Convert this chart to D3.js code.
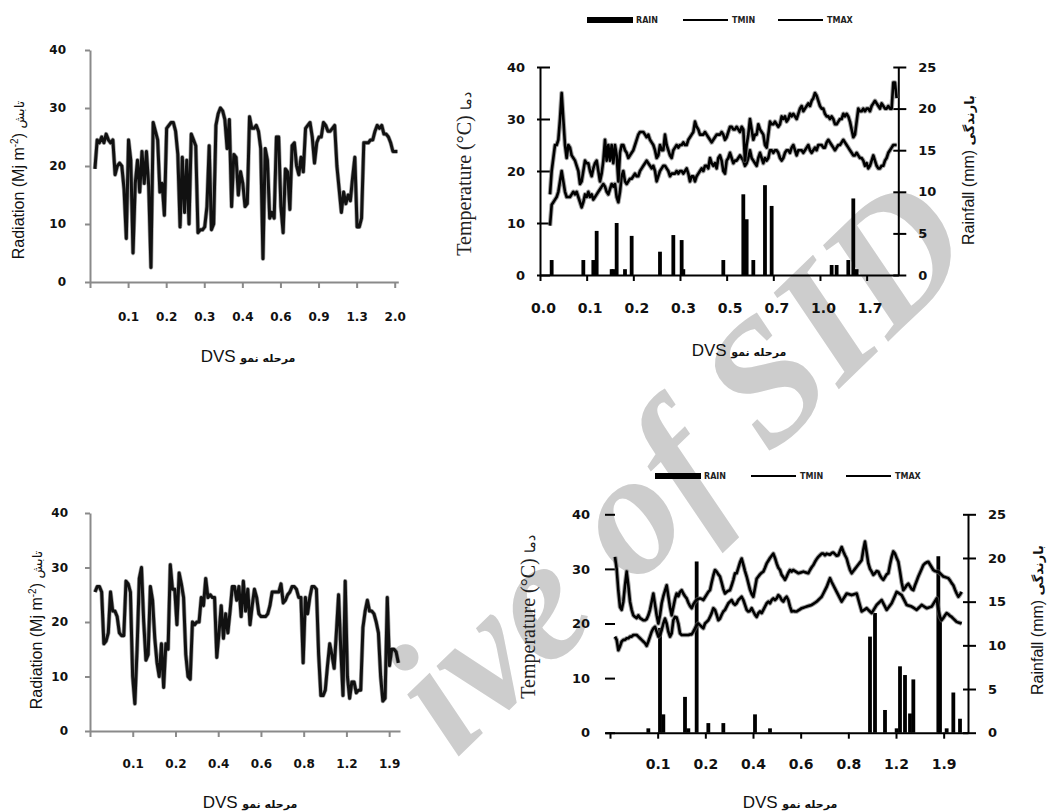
<!DOCTYPE html>
<html><head><meta charset="utf-8">
<script src="https://cdn.jsdelivr.net/npm/d3@7"></script>
<style>body{margin:0;background:#fff} svg{display:block}</style>
</head><body>
<svg id="c" width="1050" height="812"></svg>
<script>
// ---------- DATA ----------
// Chart 1 (top-left) : daily radiation
const rad1 = [19.5,24.5,24,25,24,25.5,24.5,24,24.5,18.5,
20,20.5,20,16,7.5,24.5,21,5,17,21,
15.5,22.5,17,22.5,16.5,2.5,27.5,26,24.5,15.5,
17,11.5,26.5,27,27.5,27.5,26,22,9.5,21.5,
12,21,10,25.5,24.5,23.5,8.5,9,9,9.5,
13,23.5,9,10,27,29,30,29.5,28,23,
28,13,22,21.5,15,19,17,13,13.5,28.5,
26.5,26.5,27,26,23,4,23,21,11,12,
11,25,25,13,8.5,19.5,19,12.5,23.5,24,
20,18.5,21.5,19,26.5,27,27.5,25,20.5,24,
25,25,27.5,27,26,26,26.5,27,20,16,
12,15.5,13.5,15,14,18,21.5,9.5,9.5,11,
24,24,24,24.5,24.5,26,27,26.5,27,25.5,
25.5,25,24,22.5,22.5,22.5];
const dvs1 = ["","0.1","0.2","0.3","0.4","0.6","0.9","1.3","2.0"];

// Chart 3 (bottom-left) : daily radiation
const rad3 = [25.5,26.5,26.5,25.5,16,16.5,18,25.5,22,22,
21,18,17.5,17.5,27.5,27,25.5,10,5,15,
28,30,20,13,14,26.5,24,17,12.5,10,
16,8,16,15,30.5,26,26,19.5,29,27,
24.5,14,10,9.5,20,19.5,20,20,24.5,23,
28,24.5,25,24.5,24.5,13.5,18,23,17,21.5,
18,22,26.5,26.5,24,26.5,21,27.5,22,26,
19.5,23,26,24.5,21.5,21,21,21,21.5,23,
25.5,25.5,25.5,25.5,27,23.5,24,25,25.5,26.5,
26.5,26,24.5,24.5,12.5,24.5,21.5,24.5,26.5,26.5,
26,14,6.5,6.5,7.5,12,16,14,11.5,18,
25,15,6.5,27.5,10,6,9,9,7,7.5,
7.5,19,22,24,22,22,21.5,20,18,10,
5.5,6,24.5,12,15,15,14.5,12.5];
const dvs3 = ["","0.1","0.2","0.4","0.6","0.8","1.2","1.9"];

// Chart 2 (top-right) : temperature and rain
const tmax2 = [15.5,20,22.5,25,25,26,30,35,30,25,
22.5,25,24.5,23,22.5,22,21,20,17.5,18,
20,22,21.5,21.5,20,19,20.5,21.5,22,20,
18,19.5,22,26,22,25,22,25,21.5,25,
23,18,23.5,25,25,24,23.5,22.5,23,23.5,
24,25,26,27,27.5,27.5,27.5,27,26.5,27,
26,25.5,25,24,22.5,23,25,24,24,27,
25,24,23,22.5,24,24.5,25,24.5,25,25,
25.5,25,25,26,26.5,27,27.5,29.5,28.5,28,
27,27,27,27.5,27,26.5,26,25.5,26,26.5,
27,27,27,27.5,27,26,26.5,27.5,28.5,28.5,
28,28,28.5,28,27.5,28.5,28,22,25,27,
30,28,26,27,27,29,28,27.5,27,25,
24.5,27,29.5,29,29,29.5,29,28.5,29,30.5,
30,30.5,29.5,30,31,30.5,31,30.5,30,31,
32,32.5,31.5,32,32.5,33,32.5,33.5,34,35,
34.5,33.5,32.5,32,32,31,30.5,30.5,30,30.5,
30,29,29,29.5,30,30,31,30.5,31,30.5,
29.5,28,26.5,27,29.5,32,31.5,31.5,32,31.5,
32,32,31.5,32.5,33,33.5,33,32.5,32,33,
32.5,32,32,32.5,32,32,37,37,34];
const tmin2 = [9.5,13.5,14,14.5,15,16,18,20,18,16,
15,15,15,15.5,16,15.5,16,15,14,13,
14,15.5,15,16,15,15.5,14.5,15,15.5,16,
16.5,17,17.5,17,16,15.5,16.5,17.5,17,17.5,
15,14,16,19,20,18,17.5,18,18.5,18.5,
19,19.5,19,19,20,20.5,21,21.5,22,21.5,
21,20.5,21,20,18,19,20,20.5,21,21,
20.5,20,19,19.5,19.5,19.5,20,19.5,20,20,
19.5,20,20.5,19.5,18,19,19,18,19,19.5,
20,20.5,20,21,21,20.5,22.5,21.5,21,21.5,
20.5,22.5,23,22,20,19.5,22,22.5,23.5,22.5,
21.5,22,22,22.5,23,22.5,22,21,21.5,22.5,
24,22.5,22,21.5,21,22.5,23.5,22.5,21.5,22.5,
22,22.5,24,24,23.5,24,24,23.5,22.5,22,
22.5,23.5,24,24,23.5,24.5,25,24,23,24,
24,24,23.5,24,24.5,25,24,23.5,24,24.5,
24,25,25,25,24.5,24.5,25.5,26,25.5,25,
24.5,24,24.5,25,25,25.5,26,25.5,25,24.5,
24,23.5,23,23,23.5,23,22.5,22.5,22,21,
21.5,20.5,21,22,23,22,21,20.5,20.5,21,
21,22,22.5,23.5,24,24.5,25,25,25];
const rainDay2 = [7,26,32,34,43,44,46,51,55,72,80,85,86,110,122,124,128,135,139,175,178,185,188,190];
const rainMM2  = [1.8,1.8,1.8,5.3,0.7,0.7,6.25,0.7,4.7,2.8,4.8,4.2,0.7,1.8,9.7,6.7,1.8,10.8,8.3,1.2,1.2,1.8,9.2,0.7];
const dvs2 = ["0.0","0.1","0.2","0.3","0.5","0.7","1.0","1.7"];

// Chart 4 (bottom-right) : temperature and rain
const tmax4 = [32.2,30,26,23,22.5,24,27,29.5,27,24,
22.5,21.5,21.2,21,21.5,21,20.8,20.6,20.6,20.8,
21.5,22.5,24,25.5,23.5,21.5,20,21.5,23.7,25,
26,27,25,23,21.5,23,24.5,25.5,25,25.8,
26.1,25.5,25,24.6,23.8,23.2,22.8,23.5,24,24.3,
24.5,24.6,24.5,24.3,24.8,25.3,25.8,26.1,27.5,28.8,
29.8,29.5,29,28.6,27.5,26.3,25.5,25.8,26,26.1,
27,28,29.2,29.2,30.2,31.2,31.9,30.8,29.6,28.6,
27.4,26.2,25.4,24.9,26.5,28.2,28.6,29,29.3,29.5,
30.2,31,31.5,32,32.4,32.8,32,31,30.2,29.8,
28.9,28.5,28,28.6,29.3,29.8,29.5,
29.8,29.6,29.4,29.2,29.3,29.4,29.5,29.4,29.3,29.2,
29.8,30.3,30.7,31.3,31.8,32.2,32.5,32.8,32.8,32.5,
32.8,32.7,32.6,32.9,33,32.7,32.4,32.5,33.3,34,
33.2,32.5,31.9,30.8,29.8,29.2,29.6,30,30.4,30.8,
31.2,31.6,33.5,35,33,31,30,29.5,28.9,29.2,
29.6,29.5,28.8,28.3,28,28.5,29,29.2,30.8,32.2,
33.2,32.8,32,31.3,29.5,27.5,26.1,26.5,27,27.3,
26.8,26.3,26.1,27,27.8,28.6,29.3,30,30.7,31,
31.2,31.3,30.8,30.3,29.8,29.6,29.5,29.5,29.2,28.9,
28.6,28.5,28.4,28.3,27.9,27.4,27,26.2,25.5,24.9,
25.3,25.8];
const tmin4 = [17.6,17,15.1,15.8,16.7,17,17,17.3,17.3,17.6,
17.6,17.9,17.9,17.9,17.6,17.3,17,16.7,16.4,15.9,
16.7,17.6,18.5,19.1,19.4,18.5,17.6,17.9,18.8,20,
20.9,20,18.5,17.6,18.2,20.6,21.2,21.1,20,18.2,
17.9,17.9,17.9,17.9,17.9,18,18,18.5,19.1,19.7,
20,19.7,19.4,19.1,20,20.3,20.6,21.2,21.9,22.8,
22.5,21.6,20.6,20.9,21.6,22.2,22.5,23.1,23.7,24,
24.3,23.7,23.4,23.7,24.3,24.6,24.9,24.3,23.4,22.5,
22.2,22.3,22.8,22.2,21.6,21.2,21.9,22.2,21.9,22.5,
23.1,23.7,24,23.7,24.3,24.6,24.3,24.6,25.2,24.9,
24.3,24,24.6,24.9,24.3,23.1,22.2,
22.3,22.2,22.2,22.4,22.6,22.8,22.9,23,23.1,23.2,
23.3,23.4,23.6,23.8,24,24.3,24.6,24.9,25.5,26.1,
26.7,27.5,28.3,27.6,27,26.4,25.8,25.2,24.6,24,
24.5,25,25.5,25.4,25.3,25.2,25.3,25.4,25.5,24.4,
23.3,22.2,22.4,22.6,22.8,22.5,22.2,21.9,22.4,22.9,
23.4,23.7,24,24.3,23.7,23.1,22.5,22.9,23.3,23.7,
24.4,25.1,25.8,25.6,25.4,25.2,24.6,24,23.4,23.3,
23.2,23.1,22.9,22.7,22.5,22.8,23.1,23.4,23.2,23,
22.8,22.9,23,23.1,23.6,24.1,24.6,22.6,21.2,20.6,
21,21.5,21.9,21.7,21.4,21.2,20.9,20.6,20.3,20.2,
20.1,20];
const rainDay4 = [23,30,32,45,47,52,59,68,87,96,156,159,165,172,174,177,180,182,197,198,202,206,210];
const rainMM4  = [0.5,12,2.1,4.1,0.5,19.6,1.1,1.1,2.1,0.5,11,13.7,2.6,0.5,7.6,6.6,2.2,6.1,20.2,13,0.5,4.6,1.6];
const dvs4 = ["","0.1","0.2","0.4","0.6","0.8","1.2","1.9"];

const tempTicks = [0,10,20,30,40];
const rainTicks = [0,5,10,15,20,25];
const legendNames = ["RAIN","TMIN","TMAX"];

// ---------- DRAW ----------
const svg = d3.select("#c");
svg.append("rect").attr("width",1050).attr("height",812).attr("fill","#fff");

// watermark of the source page (visible part only)
svg.append("text").text("ive of SID")
  .attr("font-family","Liberation Serif").attr("font-style","italic").attr("font-weight","bold")
  .attr("font-size",175).attr("fill","#cdcdcd").attr("text-anchor","end")
  .attr("transform","translate(980,253) rotate(-44)");

const SANS = "Liberation Sans, Arial, sans-serif";
const BOLD = "DejaVu Sans, Verdana, sans-serif";

function styleAxis(g, color, fs){
  g.select(".domain").attr("stroke",color).attr("stroke-width",2);
  g.selectAll(".tick line").attr("stroke",color).attr("stroke-width",2);
  g.selectAll(".tick text").attr("font-family",BOLD).attr("font-weight","bold")
    .attr("font-size",fs).attr("fill","#111");
}

function dvsTitle(cx, cy){
  const t = svg.append("text").attr("x",cx).attr("y",cy).attr("text-anchor","middle")
    .attr("direction","ltr").attr("fill","#111");
  t.append("tspan").attr("font-family",SANS).attr("font-size",17).text("DVS ");
  t.append("tspan").attr("font-family",BOLD).attr("font-weight","bold").attr("font-size",11).text("مرحله نمو");
}

function drawRad(cfg){
  const x = d3.scaleLinear().domain(cfg.xDomain).range(cfg.xRange);
  const y = d3.scaleLinear().domain([0,40]).range([cfg.y0, cfg.y40]);
  const grey = "#8a8a8a";
  const xa = svg.append("g").attr("transform",`translate(0,${cfg.y0})`)
    .call(d3.axisBottom(x).tickValues(cfg.labels.map((_,k)=>k*cfg.step))
      .tickFormat((d,i)=>cfg.labels[i]).tickSize(6).tickSizeOuter(0));
  styleAxis(xa, grey, 12);
  xa.selectAll(".tick text").attr("y", cfg.labelY - cfg.y0).attr("dy",0);
  const ya = svg.append("g").attr("transform",`translate(${cfg.xRange[0]},0)`)
    .call(d3.axisLeft(y).tickValues(tempTicks).tickSize(5).tickPadding(cfg.yPad).tickSizeOuter(0));
  styleAxis(ya, grey, 12);
  const line = d3.line().x((d,i)=>x(cfg.start+i)).y(d=>y(d));
  svg.append("path").datum(cfg.data).attr("d",line).attr("fill","none")
    .attr("stroke","#555").attr("stroke-width",4.4).attr("stroke-linejoin","round").attr("opacity",0.55);
  svg.append("path").datum(cfg.data).attr("d",line).attr("fill","none")
    .attr("stroke","#111").attr("stroke-width",3).attr("stroke-linejoin","round");
  const lab = svg.append("text").attr("transform",`translate(${cfg.ylx},${cfg.yly}) rotate(-90)`)
    .attr("text-anchor","middle").attr("dy","0.35em").attr("direction","ltr")
    .attr("font-family",SANS).attr("font-size",16).attr("fill","#111");
  lab.append("tspan").text("Radiation (Mj m");
  lab.append("tspan").attr("font-size",10).attr("dy","-6").text("-2");
  lab.append("tspan").attr("dy","6").text(") ");
  lab.append("tspan").attr("font-family",BOLD).attr("font-size",13).text("تابش");
  dvsTitle(cfg.titleX, cfg.titleY);
}

function drawTemp(cfg){
  const x = d3.scaleLinear().domain(cfg.xDomain).range(cfg.xRange);
  const y = d3.scaleLinear().domain([0,40]).range([cfg.y0, cfg.yTop]);
  const yr = d3.scaleLinear().domain([0,25]).range([cfg.y0, cfg.yTop]);
  const xa = svg.append("g").attr("transform",`translate(0,${cfg.y0})`)
    .call(d3.axisBottom(x).tickValues(cfg.labels.map((_,k)=>k*cfg.step))
      .tickFormat((d,i)=>cfg.labels[i]).tickSize(6).tickSizeOuter(0));
  styleAxis(xa, "#000", 14);
  xa.selectAll(".tick text").attr("y", cfg.labelY - cfg.y0).attr("dy",0).attr("dx",cfg.labelDx);
  const ya = svg.append("g").attr("transform",`translate(${cfg.leftX},0)`)
    .call(d3.axisLeft(y).tickValues(tempTicks).tickSizeOuter(0));
  styleAxis(ya, "#000", 13);
  ya.selectAll(".tick line").attr("x1",cfg.ltIn).attr("x2",-cfg.ltOut);
  ya.selectAll(".tick text").attr("x",-cfg.lPad);
  if(!cfg.leftLine) ya.select(".domain").remove();
  const ra = svg.append("g").attr("transform",`translate(${cfg.xRange[1]},0)`)
    .call(d3.axisRight(yr).tickValues(rainTicks).tickSizeOuter(0));
  styleAxis(ra, "#000", 13);
  ra.selectAll(".tick line").attr("x1",-5).attr("x2",8);
  ra.selectAll(".tick text").attr("x",cfg.rPad);
  // rain bars
  svg.append("g").selectAll("rect").data(rainZip(cfg.rainDay,cfg.rainMM)).join("rect")
    .attr("x",d=>x(d.day)-1.9).attr("width",3.8)
    .attr("y",d=>yr(d.mm)).attr("height",d=>yr(0)-yr(d.mm)).attr("fill","#000");
  const line = d3.line().x((d,i)=>x(cfg.start+i)).y(d=>y(d));
  [cfg.tmin, cfg.tmax].forEach(s=>{
    svg.append("path").datum(s).attr("d",line).attr("fill","none")
      .attr("stroke","#666").attr("stroke-width",4.6).attr("stroke-linejoin","round").attr("opacity",0.6);
    svg.append("path").datum(s).attr("d",line).attr("fill","none")
      .attr("stroke","#000").attr("stroke-width",2.6).attr("stroke-linejoin","round");
  });
  // left label
  const tl = svg.append("text").attr("transform",`translate(${cfg.tlx},${cfg.tly}) rotate(-90)`)
    .attr("text-anchor","middle").attr("dy","0.35em").attr("direction","ltr")
    .attr("font-family","Liberation Serif, Times New Roman, serif").attr("font-size",20).attr("fill","#222");
  tl.append("tspan").text("Temperature (°C) ");
  tl.append("tspan").attr("font-family",SANS).attr("font-size",14).text("دما");
  // right label
  const rl = svg.append("text").attr("transform",`translate(${cfg.rlx},${cfg.rly}) rotate(-90)`)
    .attr("text-anchor","middle").attr("dy","0.35em").attr("direction","ltr")
    .attr("font-family",SANS).attr("font-size",16).attr("fill","#111");
  rl.append("tspan").text("Rainfall (mm) ");
  rl.append("tspan").attr("font-family",BOLD).attr("font-weight","bold").attr("font-size",13).text("بارندگی");
  // legend
  const lg = svg.append("g").attr("transform",`translate(${cfg.legX},${cfg.legY})`);
  const lx = [0,96,191];
  legendNames.forEach((n,i)=>{
    if(i===0) lg.append("rect").attr("x",lx[i]).attr("y",-3).attr("width",46).attr("height",6).attr("fill","#000");
    else lg.append("line").attr("x1",lx[i]).attr("x2",lx[i]+45).attr("y1",0).attr("y2",0).attr("stroke","#000").attr("stroke-width",2);
    lg.append("text").attr("x",lx[i]+49).attr("y",3).attr("font-family",BOLD).attr("font-weight","bold")
      .attr("font-size",8).attr("fill","#222").text(n);
  });
  dvsTitle(cfg.titleX, cfg.titleY);
}
function rainZip(days, mm){ return days.map((d,i)=>({day:d, mm:mm[i]})); }

drawRad({data:rad1, labels:dvs1, start:2.2, step:17, xDomain:[0,137.6], xRange:[90,398.3],
  y0:282, y40:50, labelY:321, yPad:19, ylx:18, yly:180, titleX:248, titleY:362});
drawRad({data:rad3, labels:dvs3, start:2.26, step:19.3, xDomain:[0,140], xRange:[90,400],
  y0:731, y40:513, labelY:768, yPad:17, ylx:36, yly:630, titleX:250, titleY:808});

drawTemp({tmax:tmax2, tmin:tmin2, rainDay:rainDay2, rainMM:rainMM2, labels:dvs2, start:6, step:28,
  xDomain:[0,215], xRange:[540,898.3], leftX:540, leftLine:true, y0:275, yTop:67, labelY:313, labelDx:3,
  ltIn:10, ltOut:3, lPad:15, rPad:20, tlx:464, tly:174, rlx:968, rly:170, legX:587, legY:20,
  titleX:739, titleY:356});
drawTemp({tmax:tmax4, tmin:tmin4, rainDay:rainDay4, rainMM:rainMM4, labels:dvs4, start:3, step:28.6,
  xDomain:[-3,214.8], xRange:[605,968], leftX:610, leftLine:false, y0:732.7, yTop:514.3, labelY:769, labelDx:0,
  ltIn:5, ltOut:5, lPad:20, rPad:20, tlx:528, tly:617, rlx:1037, rly:620, legX:655, legY:476,
  titleX:790, titleY:808});
</script>
</body></html>
